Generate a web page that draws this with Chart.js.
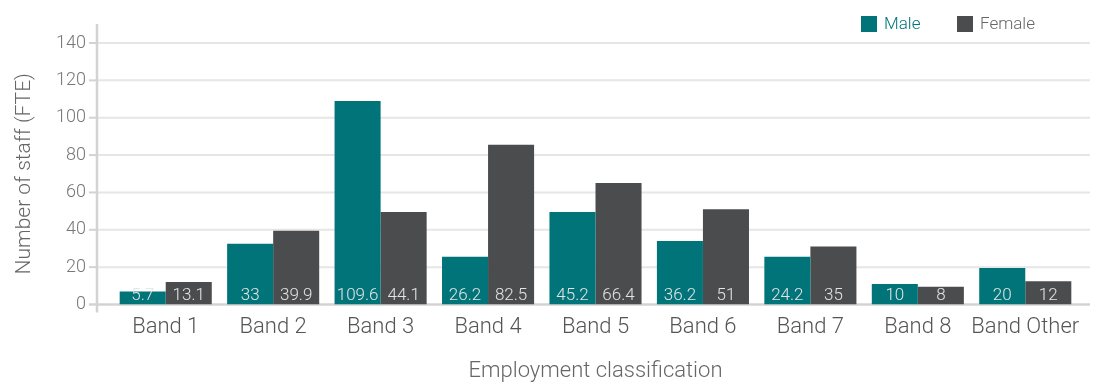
<!DOCTYPE html>
<html>
<head>
<meta charset="utf-8">
<script src="https://cdn.jsdelivr.net/npm/chart.js@4"></script>
<style>
  body { margin: 0; background: #fff; }
  canvas { display: block; }
</style>
</head>
<body>
<canvas id="staffChart" width="1100" height="385"></canvas>
<script>
// categorias e valores
const bands = ['Band 1', 'Band 2', 'Band 3', 'Band 4', 'Band 5', 'Band 6', 'Band 7', 'Band 8', 'Band Other'];
const maleValues = [7, 32.5, 109, 25.5, 49.5, 34, 25.5, 11, 19.5];
const femaleValues = [12, 39.5, 49.5, 85.5, 65, 51, 31, 9.5, 12.5];
// rótulos escritos dentro das barras (como aparecem no original)
const maleLabels = ['5.7', '33', '109.6', '26.2', '45.2', '36.2', '24.2', '10', '20'];
const femaleLabels = ['13.1', '39.9', '44.1', '82.5', '66.4', '51', '35', '8', '12'];
const yTicks = [0, 20, 40, 60, 80, 100, 120, 140];

const TEAL = '#007479';
const GREY = '#4b4c4e';
const FONT = 'Roboto, "Liberation Sans", sans-serif';

// grade, eixo vertical e legenda desenhados à mão
const framePlugin = {
    id: 'frame',
    beforeDatasetsDraw(chart) {
        const ctx = chart.ctx;
        const area = chart.chartArea;
        const y = chart.scales.y;
        const axisX = area.left - 15;
        ctx.save();
        yTicks.forEach(function (v) {
            const py = y.getPixelForValue(v);
            ctx.strokeStyle = v === 0 ? '#d3d3d3' : '#e6e6e6';
            ctx.lineWidth = v === 0 ? 2.5 : 2;
            ctx.beginPath();
            ctx.moveTo(axisX, py);
            ctx.lineTo(area.right + 11, py);
            ctx.stroke();
            // marquinha à esquerda do eixo
            ctx.strokeStyle = '#d3d3d3';
            ctx.beginPath();
            ctx.moveTo(axisX - 8, py);
            ctx.lineTo(axisX, py);
            ctx.stroke();
        });
        ctx.strokeStyle = '#d3d3d3';
        ctx.lineWidth = 2.5;
        ctx.beginPath();
        ctx.moveTo(axisX, area.top - 19);
        ctx.lineTo(axisX, area.bottom + 8);
        ctx.stroke();

        // legenda
        ctx.font = '300 17px ' + FONT;
        ctx.textBaseline = 'middle';
        ctx.textAlign = 'left';
        ctx.fillStyle = TEAL;
        ctx.fillRect(861, 16, 16, 16);
        ctx.fillText('Male', 884, 24.5);
        ctx.fillStyle = GREY;
        ctx.fillRect(957, 16, 16, 16);
        ctx.fillStyle = '#666';
        ctx.fillText('Female', 980, 24.5);
        ctx.restore();
    },
    afterDatasetsDraw(chart) {
        const ctx = chart.ctx;
        const bottom = chart.chartArea.bottom;
        const texts = [maleLabels, femaleLabels];
        ctx.save();
        ctx.font = '300 17px ' + FONT;
        ctx.fillStyle = '#e4e4e4';
        ctx.textAlign = 'center';
        ctx.textBaseline = 'middle';
        chart.data.datasets.forEach(function (ds, di) {
            chart.getDatasetMeta(di).data.forEach(function (bar, i) {
                ctx.fillText(texts[di][i], bar.x, bottom - 8.5);
            });
        });
        ctx.restore();
    }
};

const ctx = document.getElementById('staffChart').getContext('2d');
new Chart(ctx, {
    type: 'bar',
    data: {
        labels: bands,
        datasets: [
            { label: 'Male', data: maleValues, backgroundColor: TEAL },
            { label: 'Female', data: femaleValues, backgroundColor: GREY }
        ]
    },
    options: {
        responsive: false,
        animation: false,
        layout: { padding: { top: 43, right: 21, left: 0, bottom: 0 } },
        datasets: {
            bar: { categoryPercentage: 0.857, barPercentage: 1.0 }
        },
        plugins: {
            legend: { display: false },
            tooltip: { enabled: false }
        },
        scales: {
            x: {
                grid: { display: false, drawTicks: false },
                border: { display: false },
                ticks: {
                    color: '#555',
                    padding: 10,
                    autoSkip: false,
                    maxRotation: 0,
                    font: { family: FONT, size: 22, weight: '300' }
                },
                title: {
                    display: true,
                    text: 'Employment classification',
                    color: '#666',
                    padding: { top: 0, bottom: 0 },
                    font: { family: FONT, size: 22, weight: '300' }
                },
                afterFit(scale) { scale.height = 80.5; }
            },
            y: {
                min: 0,
                max: 140,
                grid: { display: false, drawTicks: false },
                border: { display: false },
                ticks: {
                    stepSize: 20,
                    color: '#777',
                    padding: 26,
                    font: { family: FONT, size: 18, weight: '300' }
                },
                title: {
                    display: true,
                    text: 'Number of staff (FTE)',
                    color: '#666',
                    padding: { top: 12, bottom: 0 },
                    font: { family: FONT, size: 21, weight: '300' }
                },
                afterFit(scale) { scale.width = 112; }
            }
        }
    },
    plugins: [framePlugin]
});
</script>
</body>
</html>
